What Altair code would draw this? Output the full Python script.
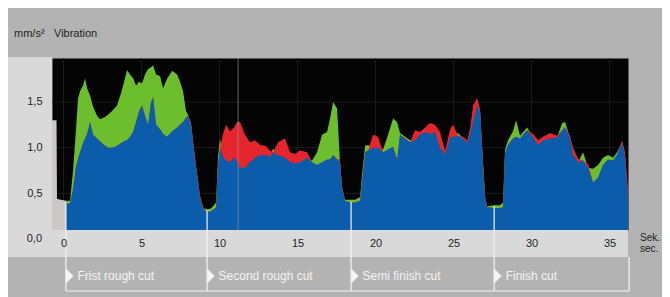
import altair as alt
import pandas as pd

# ---------------- data ----------------
# time in seconds, green-curve top and red-curve top (blue = overlap of both)
T = [0.16, 0.42, 0.61, 0.80, 0.93, 1.06, 1.25, 1.38, 1.51, 1.70,
     1.89, 2.15, 2.34, 2.60, 2.85, 3.11, 3.43, 3.69, 3.88, 4.07,
     4.26, 4.46, 4.65, 4.84, 5.03, 5.22, 5.42, 5.61, 5.74, 5.93,
     6.19, 6.38, 6.63, 6.96, 7.28, 7.47, 7.66, 7.85, 7.98, 8.17,
     8.37, 8.56, 8.75, 8.94, 9.13, 9.39, 9.58, 9.78, 9.90, 10.03,
     10.22, 10.42, 10.67, 10.93, 11.12, 11.31, 11.63, 11.95, 12.28, 12.60,
     12.92, 13.24, 13.43, 13.75, 14.20, 14.52, 14.84, 15.16, 15.61, 15.93,
     16.25, 16.57, 16.89, 17.08, 17.28, 17.53, 17.72, 17.85, 18.04, 18.37,
     18.69, 19.01, 19.13, 19.33,
     19.52, 19.84, 20.16, 20.48, 20.80, 21.12, 21.38, 21.57, 21.89, 22.21,
     22.53, 22.85, 23.17, 23.49, 23.81, 24.13, 24.46, 24.78, 24.97, 25.29,
     25.61, 25.87, 26.06, 26.25, 26.51, 26.70, 26.89, 27.02, 27.15, 27.60,
     27.98, 28.17,
     28.30, 28.49, 28.81, 29.01, 29.26, 29.71, 30.10, 30.42, 30.74, 31.19,
     31.63, 31.96, 32.15, 32.47, 32.66, 32.98, 33.30, 33.62, 33.94, 34.26,
     34.58, 34.90, 35.22, 35.48, 35.80, 35.99, 36.18]

G = [0.42, 0.42, 0.75, 1.20, 1.54, 1.62, 1.68, 1.76, 1.65, 1.57,
     1.45, 1.35, 1.31, 1.33, 1.36, 1.40, 1.46, 1.60, 1.72, 1.85,
     1.80, 1.76, 1.68, 1.72, 1.70, 1.80, 1.86, 1.88, 1.90, 1.80,
     1.78, 1.65, 1.75, 1.84, 1.80, 1.72, 1.62, 1.40, 1.36, 1.25,
     0.95, 0.70, 0.45, 0.34, 0.33, 0.33, 0.36, 0.40, 0.90, 1.10,
     0.90, 0.86, 0.84, 0.90, 0.85, 0.78, 0.78, 0.84, 0.89, 0.92,
     0.92, 0.90, 0.99, 0.92, 0.89, 0.84, 0.83, 0.84, 0.89, 0.86,
     0.95, 1.14, 1.17, 1.32, 1.50, 1.43, 0.85, 0.55, 0.43, 0.43,
     0.43, 0.46, 0.70, 1.02,
     1.03, 1.00, 1.00, 0.98, 1.14, 1.32, 1.28, 1.16, 1.12, 1.08,
     1.08, 1.14, 1.17, 1.15, 1.17, 1.00, 0.93, 1.11, 1.12, 1.16,
     1.10, 1.05, 1.15, 1.28, 1.46, 1.39, 0.81, 0.45, 0.36, 0.37,
     0.37, 0.40,
     0.98, 1.08, 1.18, 1.30, 1.13, 1.22, 1.11, 1.03, 1.08, 1.10,
     1.11, 1.27, 1.28, 1.10, 0.92, 0.84, 0.95, 0.78, 0.77, 0.81,
     0.89, 0.92, 0.89, 0.95, 1.06, 0.90, 0.45]

R = [0.39, 0.39, 0.55, 0.80, 0.88, 0.95, 1.05, 1.10, 1.15, 1.28,
     1.14, 1.10, 1.07, 1.03, 1.00, 1.00, 1.02, 1.05, 1.07, 1.08,
     1.12, 1.17, 1.28, 1.40, 1.46, 1.35, 1.25, 1.50, 1.55, 1.25,
     1.20, 1.15, 1.12, 1.18, 1.22, 1.25, 1.28, 1.33, 1.35, 1.28,
     0.98, 0.73, 0.48, 0.36, 0.30, 0.30, 0.32, 0.35, 0.80, 1.00,
     1.15, 1.25, 1.18, 1.22, 1.28, 1.28, 1.14, 1.06, 1.08, 1.03,
     1.02, 0.97, 0.95, 1.06, 1.10, 0.95, 0.93, 0.97, 0.95, 0.84,
     0.81, 0.84, 0.87, 0.87, 0.92, 0.87, 0.88, 0.58, 0.42, 0.40,
     0.40, 0.42, 0.62, 0.95,
     0.97, 1.14, 1.12, 0.95, 0.98, 1.01, 0.87, 1.14, 1.10, 1.06,
     1.19, 1.17, 1.22, 1.27, 1.25, 1.17, 0.97, 1.20, 1.25, 1.13,
     1.12, 1.08, 1.21, 1.46, 1.54, 1.42, 0.85, 0.48, 0.35, 0.34,
     0.34, 0.35,
     0.94, 1.03, 1.10, 1.12, 1.10, 1.19, 1.15, 1.08, 1.12, 1.16,
     1.13, 1.19, 1.22, 1.13, 1.00, 0.88, 0.86, 0.82, 0.62, 0.67,
     0.81, 0.87, 0.86, 0.92, 1.08, 0.95, 0.55]

LEAD_T = [-0.74, -0.45, -0.42, 0.16]
LEAD_V = [1.30, 1.30, 0.44, 0.42]

PHASE_START = [0.15, 9.20, 18.43, 27.60]
PHASE_FLOOR = [0.40, 0.31, 0.41, 0.36]
PHASE_LABELS = ["Frist rough cut", "Second rough cut", "Semi finish cut", "Finish cut"]
PHASE_END = [36.25]

X_TICKS = [0, 5, 10, 15, 20, 25, 30, 35]
Y_TICKS = [0.5, 1.0, 1.5]
CURSOR_T = [11.19]

assert len(T) == len(G) == len(R)

# ---------------- styling ----------------
W, H = 576, 172
FONT = "Liberation Sans"
BG = "#b3b3b3"
PANEL = "#d9d9d9"
PLOT_BG = "#040404"
GREEN = "#6cbe2d"
RED = "#e6262c"
BLUE = "#0b5cab"
LEAD = "#cdc8c8"
TXT = "#1e1e1e"
WHITE = "#f4f4f4"

x_scale = alt.Scale(domain=[-0.74, 36.18], nice=False, zero=False)
y_scale = alt.Scale(domain=[0.10, 1.98], nice=False, zero=False)

X_AX = alt.Axis(values=X_TICKS, title=None, domain=False, ticks=False, grid=False,
                labelPadding=7, labelFont=FONT, labelFontSize=11, labelColor=TXT,
                labelFlush=False, zindex=1)
Y_AX = alt.Axis(values=Y_TICKS, title=None, domain=False, ticks=False, grid=False,
                labelPadding=10, labelFont=FONT, labelFontSize=11, labelColor=TXT,
                labelExpr="replace(format(datum.value, '.1f'), '.', ',')", zindex=1)


def xe(f):
    return alt.X(f, type="quantitative", scale=x_scale, axis=X_AX)


def ye(f):
    return alt.Y(f, type="quantitative", scale=y_scale, axis=Y_AX)


one = alt.Data(values=[{}])
df = pd.DataFrame({"t": T, "g": G, "r": R})
lead_df = pd.DataFrame({"t": LEAD_T, "v": LEAD_V})
phase_df = pd.DataFrame({"start": PHASE_START, "floor": PHASE_FLOOR, "label": PHASE_LABELS})
span_df = pd.DataFrame({"a": [PHASE_START[0]], "b": PHASE_END})
end_df = pd.DataFrame({"e": PHASE_END})
xgrid_df = pd.DataFrame({"t": X_TICKS})
ygrid_df = pd.DataFrame({"v": Y_TICKS})
cursor_df = pd.DataFrame({"t": CURSOR_T})
zero_df = pd.DataFrame({"v": [0.0]})

# background panels (decoration)
panel_left = alt.Chart(one).mark_rect(color=PANEL).encode(
    x=alt.value(-44), x2=alt.value(0), y=alt.value(-1), y2=alt.value(199))
panel_bottom = alt.Chart(one).mark_rect(color=PANEL).encode(
    x=alt.value(0), x2=alt.value(W), y=alt.value(H), y2=alt.value(199))

# faint grid
xgrid = alt.Chart(xgrid_df).mark_rule(color="#1c1c1c", strokeWidth=1).encode(x=xe("t"))
ygrid = alt.Chart(ygrid_df).mark_rule(color="#1c1c1c", strokeWidth=1).encode(y=ye("v"))

lead = alt.Chart(lead_df).mark_area(color=LEAD, clip=True).encode(x=xe("t"), y=ye("v"))
green = alt.Chart(df).mark_area(color=GREEN, clip=True).encode(x=xe("t"), y=ye("g"))
red = alt.Chart(df).mark_area(color=RED, clip=True).encode(x=xe("t"), y=ye("r"))
blue = alt.Chart(df).transform_calculate(b="min(datum.g, datum.r)").mark_area(
    color=BLUE, clip=True).encode(x=xe("t"), y=ye("b"))

cursor = alt.Chart(cursor_df).mark_rule(color="#8a9a8a", opacity=0.45, strokeWidth=1.5).encode(x=xe("t"))

zero_lbl = alt.Chart(zero_df).mark_text(align="right", baseline="middle", font=FONT,
                                         fontSize=11, color=TXT).encode(
    x=alt.value(-10), y=ye("v"), text=alt.value("0,0"))

phase_lines = alt.Chart(phase_df).mark_rule(color=WHITE, strokeWidth=1.2).encode(
    x=xe("start"), y=ye("floor"), y2=alt.value(233))
span_line = alt.Chart(span_df).mark_rule(color=WHITE, strokeWidth=1.2).encode(
    x=xe("a"), x2="b:Q", y=alt.value(233))
end_line = alt.Chart(end_df).mark_rule(color=WHITE, strokeWidth=1.2).encode(
    x=xe("e"), y=alt.value(199), y2=alt.value(233))
triangles = alt.Chart(phase_df).mark_point(shape="M0,-1L1,0L0,1Z", size=225, filled=True,
                                            color=WHITE, opacity=1, strokeWidth=0).encode(
    x=xe("start"), y=alt.value(218))
phase_text = alt.Chart(phase_df).mark_text(align="left", baseline="middle", dx=11.5,
                                            font=FONT, fontSize=12, color=WHITE).encode(
    x=xe("start"), y=alt.value(218), text="label:N")

unit_txt = alt.Chart(one).mark_text(align="left", baseline="middle", font=FONT,
                                    fontSize=11, color=TXT).encode(
    x=alt.value(-38), y=alt.value(-24), text=alt.value("mm/s²"))
title_txt = alt.Chart(one).mark_text(align="left", baseline="middle", font=FONT,
                                     fontSize=11, color=TXT).encode(
    x=alt.value(2), y=alt.value(-24), text=alt.value("Vibration"))
sek_txt = alt.Chart(one).mark_text(align="left", baseline="middle", font=FONT,
                                   fontSize=10, color=TXT).encode(
    x=alt.value(588), y=alt.value(180), text=alt.value("Sek."))
sec_txt = alt.Chart(one).mark_text(align="left", baseline="middle", font=FONT,
                                   fontSize=10, color=TXT).encode(
    x=alt.value(588), y=alt.value(191), text=alt.value("sec."))

chart = alt.layer(
    panel_left, panel_bottom, xgrid, ygrid, lead, green, red, blue, cursor,
    zero_lbl, phase_lines, span_line, end_line, triangles, phase_text,
    unit_txt, title_txt, sek_txt, sec_txt,
).properties(
    width=W, height=H,
    padding={"left": 44, "top": 50, "right": 34, "bottom": 67},
    autosize=alt.AutoSizeParams(type="none"),
    background=BG,
).configure(font=FONT).configure_view(fill=PLOT_BG, stroke="transparent")

chart.save("out.html", embed_options={"renderer": "svg", "actions": False})
